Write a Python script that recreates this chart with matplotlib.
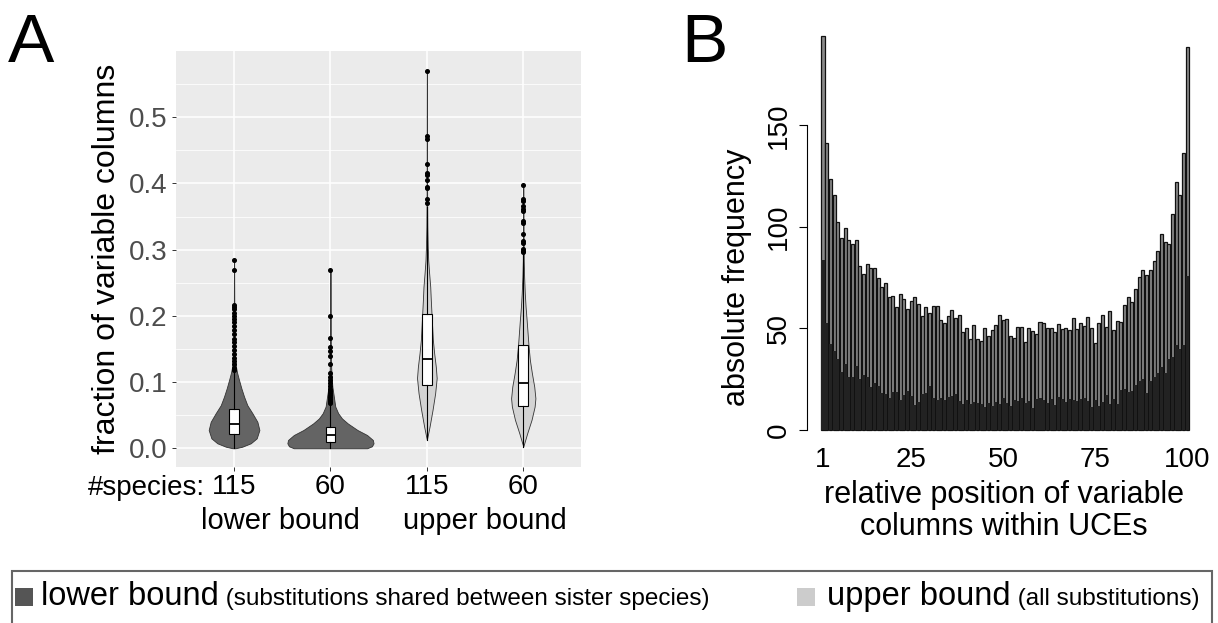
import matplotlib
matplotlib.use('Agg')
import matplotlib.pyplot as plt
from matplotlib.patches import Rectangle
import numpy as np

plt.rcParams['font.family'] = ['Liberation Sans', 'DejaVu Sans']

# ---------------- panel A data ----------------
species = ['115', '60', '115', '60']
groups = ['lower bound', 'upper bound']

# box statistics
q1 = [0.0216, 0.0100, 0.0957, 0.0645]
med = [0.0367, 0.0201, 0.1349, 0.0980]
q3 = [0.0589, 0.0327, 0.2034, 0.1560]
whis_lo = [0.0, 0.0, 0.0126, 0.0025]
whis_hi = [0.113, 0.066, 0.365, 0.292]
outliers = [
    [0.284, 0.269, 0.217, 0.214, 0.21, 0.205, 0.2, 0.195, 0.19, 0.185, 0.178,
     0.172, 0.165, 0.16, 0.155, 0.148, 0.142, 0.137, 0.132, 0.127, 0.122, 0.118],
    [0.270, 0.200, 0.166, 0.153, 0.147, 0.140, 0.128, 0.114, 0.108, 0.103, 0.098,
     0.094, 0.09, 0.087, 0.084, 0.081, 0.078, 0.075, 0.072, 0.07, 0.068],
    [0.5705, 0.471, 0.467, 0.430, 0.416, 0.413, 0.406, 0.395, 0.393, 0.376, 0.370],
    [0.398, 0.376, 0.373, 0.366, 0.362, 0.358, 0.343, 0.341, 0.324, 0.313, 0.310,
     0.301, 0.298, 0.296],
]

# violin outlines: value levels and half widths (category units)
vio_y = [
    [0.0, 0.0024, 0.0075, 0.015, 0.0276, 0.040, 0.053, 0.065, 0.078, 0.0906, 0.103,
     0.115, 0.13, 0.15, 0.2, 0.284],
    [0.0, 0.003, 0.0075, 0.0125, 0.020, 0.0276, 0.0375, 0.045, 0.053, 0.063, 0.078,
     0.093, 0.103, 0.12, 0.15, 0.2, 0.27],
    [0.0126, 0.0327, 0.058, 0.083, 0.106, 0.123, 0.1435, 0.164, 0.184, 0.204, 0.224,
     0.244, 0.264, 0.284, 0.305, 0.335, 0.365, 0.395, 0.5705],
    [0.0025, 0.0227, 0.043, 0.063, 0.0755, 0.093, 0.113, 0.133, 0.154, 0.174, 0.194,
     0.214, 0.234, 0.259, 0.284, 0.335, 0.398],
]
vio_w = [
    [0.015, 0.086, 0.173, 0.235, 0.263, 0.242, 0.190, 0.138, 0.104, 0.076, 0.052,
     0.03, 0.012, 0.006, 0.003, 0.001],
    [0.38, 0.43, 0.447, 0.44, 0.38, 0.28, 0.18, 0.12, 0.08, 0.05, 0.035,
     0.02, 0.015, 0.008, 0.004, 0.002, 0.001],
    [0.0, 0.028, 0.059, 0.086, 0.102, 0.093, 0.076, 0.062, 0.055, 0.048, 0.041,
     0.035, 0.024, 0.014, 0.009, 0.005, 0.0035, 0.0025, 0.001],
    [0.0, 0.041, 0.086, 0.118, 0.126, 0.114, 0.090, 0.069, 0.055, 0.045, 0.035,
     0.024, 0.016, 0.009, 0.005, 0.003, 0.001],
]
vio_col = ['#646464', '#646464', '#d3d3d3', '#d3d3d3']

# ---------------- panel B data ----------------
positions = list(range(1, 101))
upper = [193.8, 141.5, 123.5, 115.8, 102.3, 94.6, 99.7, 93.4, 91.5, 93.4,
         80.9, 76.8, 81.6, 79.6, 80.0, 75.0, 70.6, 72.2, 65.7, 66.0,
         60.4, 66.8, 64.7, 59.4, 63.5, 65.7, 61.9, 56.0, 60.8, 57.5,
         61.1, 61.2, 54.2, 52.5, 56.2, 59.0, 55.0, 56.5, 48.1, 50.4,
         44.8, 51.6, 44.8, 43.7, 50.1, 46.3, 49.3, 51.6, 56.5, 54.0,
         54.8, 46.1, 45.3, 50.9, 50.9, 43.3, 50.1, 48.6, 47.1, 53.2,
         52.7, 50.1, 50.1, 48.4, 52.1, 49.8, 50.1, 49.3, 55.2, 49.8,
         52.5, 51.2, 55.5, 50.1, 43.0, 52.5, 56.5, 50.9, 58.8, 49.3,
         53.9, 53.2, 61.6, 65.4, 62.9, 69.5, 75.2, 78.7, 76.2, 78.8,
         83.3, 88.2, 96.7, 92.4, 91.6, 106.2, 122.0, 115.8, 136.6, 188.8]
lower = [83.7, 52.5, 42.2, 38.9, 35.0, 28.7, 32.5, 26.3, 25.9, 31.5,
         25.1, 27.1, 26.3, 21.3, 23.3, 21.7, 18.1, 17.7, 15.6, 18.9,
         18.6, 14.8, 17.2, 19.2, 16.7, 12.3, 14.0, 17.6, 18.1, 21.7,
         15.6, 14.8, 15.6, 14.8, 16.4, 16.9, 17.7, 14.4, 12.8, 14.8,
         12.8, 14.0, 13.1, 12.8, 11.2, 13.1, 11.8, 13.6, 12.8, 15.6,
         13.5, 11.8, 14.8, 14.3, 15.8, 13.5, 14.3, 10.7, 15.3, 15.6,
         14.8, 13.1, 15.1, 12.5, 16.4, 15.3, 13.6, 15.1, 14.8, 14.4,
         15.4, 15.6, 14.4, 11.5, 14.8, 11.8, 13.6, 17.2, 12.8, 15.1,
         12.6, 19.7, 20.2, 18.6, 19.4, 22.0, 24.0, 25.0, 18.0, 24.0,
         26.0, 28.0, 31.0, 28.0, 35.0, 36.0, 42.0, 40.0, 42.0, 76.0]

W, H = 1218, 623
fig = plt.figure(figsize=(W / 100, H / 100), dpi=100)
fig.patch.set_facecolor('white')

def fx(px):
    return px / W

def fy(py):
    return 1 - py / H

# ---------------- panel A ----------------
axA = fig.add_axes([fx(176.2), fy(467.2), fx(581.1) - fx(176.2), fy(50.7) - fy(467.2)])
axA.set_facecolor('#ebebeb')
for s in axA.spines.values():
    s.set_visible(False)
axA.set_xlim(0.4, 4.6)
axA.set_ylim(-0.0286, 0.6006)
axA.set_yticks(np.arange(0, 0.51, 0.1))
axA.set_yticks(np.arange(0.05, 0.56, 0.1), minor=True)
axA.set_yticklabels(['0.0', '0.1', '0.2', '0.3', '0.4', '0.5'])
axA.set_xticks([1, 2, 3, 4])
axA.set_xticklabels(species)
axA.grid(which='major', color='white', lw=1.1)
axA.grid(which='minor', axis='y', color='white', lw=0.55)
axA.set_axisbelow(True)
axA.tick_params(axis='y', which='major', labelsize=20, labelcolor='#4d4d4d',
                color='#333333', length=3, width=0.7)
axA.tick_params(axis='y', which='minor', length=0)
axA.tick_params(axis='x', labelsize=20, labelcolor='black', color='#333333',
                length=3, width=0.7, pad=2)
axA.set_ylabel('fraction of variable columns', fontsize=23, labelpad=5)

for i in range(4):
    c = i + 1
    y = np.array(vio_y[i])
    w = np.array(vio_w[i])
    axA.fill_betweenx(y, c - w, c + w, facecolor=vio_col[i], edgecolor='#333333',
                      lw=0.6, zorder=2)

stats = []
for i in range(4):
    stats.append(dict(med=med[i], q1=q1[i], q3=q3[i], whislo=whis_lo[i],
                      whishi=whis_hi[i], fliers=outliers[i]))
axA.bxp(stats, positions=[1, 2, 3, 4], widths=0.1, patch_artist=True,
        showcaps=False, manage_ticks=False,
        boxprops=dict(facecolor='white', edgecolor='black', lw=0.8),
        medianprops=dict(color='black', lw=1.3),
        whiskerprops=dict(color='black', lw=0.8),
        flierprops=dict(marker='o', markerfacecolor='black',
                        markeredgecolor='black', markersize=2.6),
        zorder=3)

fig.text(fx(205), fy(495), '#species:', fontsize=20, ha='right', va='baseline')
fig.text(fx(280), fy(521), groups[0], fontsize=21, ha='center', va='center')
fig.text(fx(485), fy(521), groups[1], fontsize=21, ha='center', va='center')

fig.text(fx(8), fy(62), 'A', fontsize=50, ha='left', va='baseline')
fig.text(fx(681), fy(62), 'B', fontsize=50, ha='left', va='baseline')

# ---------------- panel B ----------------
axB = fig.add_axes([fx(807), fy(440), fx(1200) - fx(807), fy(30) - fy(440)])
axB.set_xlim(-3.35, 103.5)
axB.set_ylim(-4.93, 197.0)
for k in ['top', 'right', 'bottom']:
    axB.spines[k].set_visible(False)
axB.spines['left'].set_bounds(0, 150)
axB.spines['left'].set_linewidth(0.8)
axB.bar(positions, upper, width=0.82, facecolor='#8a8a8a', edgecolor='#111111',
        lw=0.9, zorder=2)
axB.bar(positions, lower, width=0.82, color='#222222', lw=0, zorder=3)
axB.set_yticks([0, 50, 100, 150])
axB.set_yticklabels(['0', '50', '100', '150'], rotation=90, va='center')
axB.set_xticks([1, 25, 50, 75, 100])
axB.tick_params(axis='y', labelsize=20, length=6, width=0.8, pad=5)
axB.tick_params(axis='x', labelsize=20, length=0, pad=5)
axB.set_ylabel('absolute frequency', fontsize=22)
axB.yaxis.set_label_coords(-0.14, 0.396)
axB.set_xlabel('relative position of variable\ncolumns within UCEs', fontsize=22,
               labelpad=5, linespacing=1.1)

# ---------------- legend ----------------
fig.add_artist(Rectangle((fx(12), fy(640)), fx(1212) - fx(12), fy(571) - fy(640),
                         transform=fig.transFigure, fill=False,
                         edgecolor='#666666', lw=1.5))
fig.add_artist(Rectangle((fx(15), fy(606)), fx(18) - fx(0), fy(588) - fy(606),
                         transform=fig.transFigure, facecolor='#555555', lw=0))
fig.add_artist(Rectangle((fx(797), fy(606)), fx(18) - fx(0), fy(588) - fy(606),
                         transform=fig.transFigure, facecolor='#cccccc', lw=0))
base = fy(605)
t1 = fig.text(fx(41), base, 'lower bound', fontsize=23.5, ha='left', va='baseline')
t2 = fig.text(fx(827), base, 'upper bound', fontsize=23.5, ha='left', va='baseline')

fig.canvas.draw()
r = fig.canvas.get_renderer()
t1_end = t1.get_window_extent(r).transformed(fig.transFigure.inverted()).x1
t2_end = t2.get_window_extent(r).transformed(fig.transFigure.inverted()).x1
fig.text(t1_end, base, ' (substitutions shared between sister species)', fontsize=17.5,
         ha='left', va='baseline')
fig.text(t2_end, base, ' (all substitutions)', fontsize=17.5,
         ha='left', va='baseline')

fig.savefig('out.png', dpi=100, facecolor='white')
